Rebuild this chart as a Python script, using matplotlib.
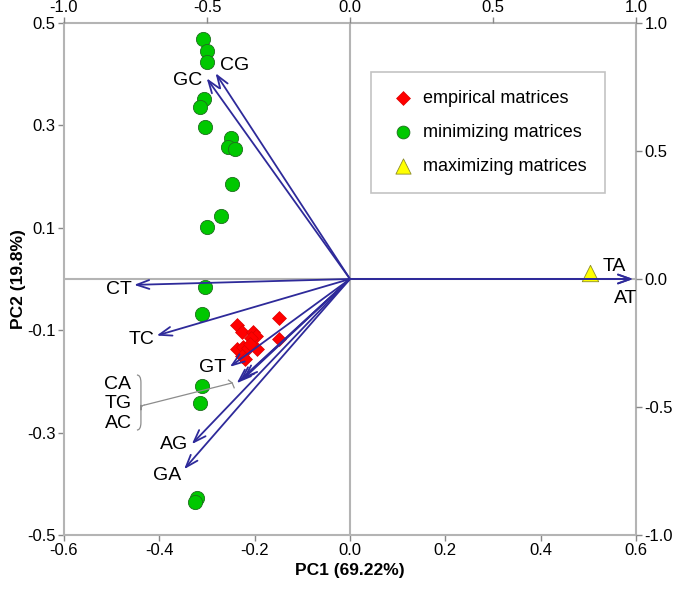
import matplotlib
matplotlib.use("Agg")
import matplotlib.pyplot as plt
from matplotlib.path import Path
from matplotlib.patches import PathPatch

plt.rcParams['font.family'] = ['Liberation Sans', 'DejaVu Sans']

# ---- data (scores: PC1 / PC2) ----
emp_x = [-0.148, -0.148, -0.238, -0.227, -0.203, -0.197, -0.208, -0.238, -0.225,
         -0.213, -0.196, -0.227, -0.220, -0.210]
emp_y = [-0.077, -0.117, -0.090, -0.103, -0.103, -0.111, -0.116, -0.137, -0.132,
         -0.134, -0.137, -0.150, -0.157, -0.126]

min_x = [-0.309, -0.301, -0.300, -0.306, -0.315, -0.304, -0.250, -0.255, -0.241,
         -0.248, -0.271, -0.299, -0.304, -0.310, -0.310, -0.314, -0.322, -0.325]
min_y = [0.468, 0.446, 0.423, 0.352, 0.335, 0.296, 0.275, 0.258, 0.254,
         0.186, 0.123, 0.102, -0.016, -0.069, -0.209, -0.242, -0.427, -0.435]

max_x = [0.503]
max_y = [0.011]

# ---- loadings (top / right axes) ----
load_names = ['CG', 'GC', 'CT', 'TC', 'GT', 'CA', 'TG', 'AC', 'AG', 'GA', 'TA', 'AT']
load_x = [-0.470, -0.501, -0.755, -0.676, -0.420, -0.396, -0.385, -0.374, -0.553, -0.580, 0.990, 0.990]
load_y = [0.804, 0.784, -0.023, -0.221, -0.343, -0.407, -0.398, -0.391, -0.645, -0.743, 0.000, 0.000]
label_x = [-0.402, -0.567, -0.807, -0.728, -0.480, -0.813, -0.809, -0.809, -0.615, -0.641, 0.924, 0.964]
label_y = [0.833, 0.775, -0.040, -0.238, -0.345, -0.414, -0.486, -0.564, -0.645, -0.766, 0.048, -0.075]

x_ticks = [-0.6, -0.4, -0.2, 0.0, 0.2, 0.4, 0.6]
y_ticks = [0.5, 0.3, 0.1, -0.1, -0.3, -0.5]
l_ticks = [-1.0, -0.5, 0.0, 0.5, 1.0]

GRAY = '#b4b4b4'
ARROW = '#2e2a9a'

fig = plt.figure(figsize=(6.75, 5.89), dpi=100)
pos = [64/675, 1-535/589, 572/675, 512/589]
ax = fig.add_axes(pos)
ax.set_xlim(-0.6, 0.6)
ax.set_ylim(-0.5, 0.5)
ax.set_xticks(x_ticks)
ax.set_xticklabels([f'{v:.1f}' for v in x_ticks])
ax.set_yticks(y_ticks)
ax.set_yticklabels([f'{v:.1f}' for v in y_ticks])
for s in ax.spines.values():
    s.set_color(GRAY)
    s.set_linewidth(1.5)
ax.tick_params(direction='out', length=4, width=1, color='#888888', labelsize=12, pad=2)
ax.axvline(0, color=GRAY, lw=1.5, zorder=0)
ax.axhline(0, color=GRAY, lw=1.5, zorder=0)
ax.set_xlabel('PC1 (69.22%)', fontsize=12.5, fontweight='bold', labelpad=3)
ax.set_ylabel('PC2 (19.8%)', fontsize=12.5, fontweight='bold', labelpad=1)

ax.scatter(emp_x, emp_y, marker='D', s=50, c='#ff0000', edgecolors='#dd0000', linewidths=0.5,
           zorder=3, label='empirical matrices')
ax.scatter(min_x, min_y, marker='o', s=105, c='#00c800', edgecolors='#1e6e1e', linewidths=0.6,
           zorder=3, label='minimizing matrices')
ax.scatter(max_x, max_y, marker='^', s=140, c='#ffff00', edgecolors='#8c8c28', linewidths=0.6,
           zorder=3, label='maximizing matrices')

leg = ax.legend(loc='upper left', bbox_to_anchor=(0.536, 0.905), fontsize=13, frameon=True,
                fancybox=False, edgecolor=GRAY, borderpad=1.0, labelspacing=0.95,
                handletextpad=0.3, handlelength=1.6, borderaxespad=0)
leg.get_frame().set_linewidth(1.2)
for h, sz in zip(leg.legend_handles, [50, 85, 120]):
    h.set_sizes([sz])

# overlay axes for loadings
ax2 = fig.add_axes(pos, facecolor='none')
ax2.set_xlim(-1, 1)
ax2.set_ylim(-1, 1)
ax2.xaxis.tick_top()
ax2.yaxis.tick_right()
ax2.set_xticks(l_ticks)
ax2.set_yticks(l_ticks)
ax2.set_xticklabels([f'{v:.1f}' for v in l_ticks])
ax2.set_yticklabels([f'{v:.1f}' for v in l_ticks])
for s in ax2.spines.values():
    s.set_visible(False)
ax2.tick_params(direction='out', length=4, width=1, color='#888888', labelsize=12, pad=2)

for nm, lx, ly, tx, ty in zip(load_names, load_x, load_y, label_x, label_y):
    ax2.annotate('', xy=(lx, ly), xytext=(0, 0),
                 arrowprops=dict(arrowstyle='->,head_length=0.9,head_width=0.32',
                                 color=ARROW, lw=1.3, shrinkA=0, shrinkB=0), zorder=4)
    ax2.text(tx, ty, nm, fontsize=14, ha='center', va='center', zorder=5)

# brace grouping CA / TG / AC
bx, bt, bb, bm, bd = -0.745, -0.375, -0.590, -0.492, 0.014
verts = [(bx, bt), (bx + bd, bt), (bx + bd, bt - 0.03),
         (bx + bd, bm - 0.02),
         (bx + bd, bm), (bx + 2*bd, bm),
         (bx + bd, bm), (bx + bd, bm + 0.02 - 0.04),
         (bx + bd, bb + 0.03),
         (bx + bd, bb), (bx, bb)]
codes = [Path.MOVETO, Path.CURVE3, Path.CURVE3, Path.LINETO, Path.CURVE3, Path.CURVE3,
         Path.MOVETO, Path.LINETO, Path.LINETO, Path.CURVE3, Path.CURVE3]
ax2.add_patch(PathPatch(Path(verts, codes), fill=False, edgecolor='#8c8c8c', lw=0.9))
ax2.plot([bx + 2*bd, -0.412], [bm, -0.406], color='#8c8c8c', lw=0.9)
ax2.plot([-0.425, -0.412, -0.405], [-0.395, -0.406, -0.425], color='#8c8c8c', lw=0.9)

fig.savefig('out.png', dpi=100)
